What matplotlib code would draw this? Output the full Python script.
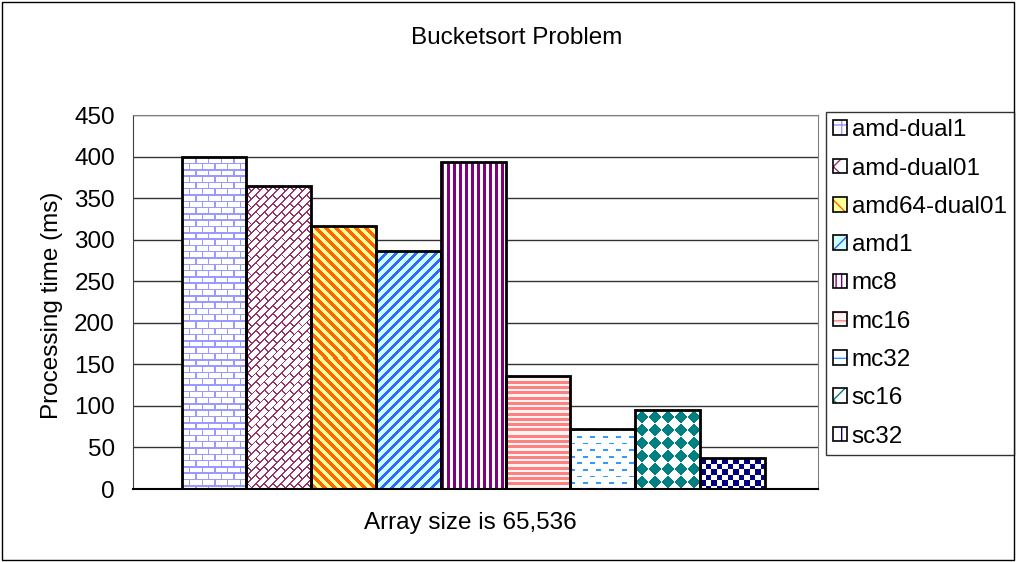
import numpy as np
import matplotlib.pyplot as plt
from matplotlib.patches import Rectangle, Patch
from matplotlib.colors import to_rgb

plt.rcParams['font.family'] = ['Liberation Sans', 'DejaVu Sans']
FS = 17.5

machines = ['amd-dual1', 'amd-dual01', 'amd64-dual01', 'amd1', 'mc8',
            'mc16', 'mc32', 'sc16', 'sc32']
times_ms = [400, 364, 317, 286, 393, 136, 72, 95, 37]

face_colors = ['white', 'white', '#FFFF99', '#CCFFFF', 'white',
               '#FFF4F4', 'white', 'white', 'white']
ink_colors = ['#9999FF', '#993366', '#FF6600', '#3366FF', '#800080',
              '#FF8080', '#3399FF', '#008080', '#000080']
pattern_names = ['brick', 'diagbrick', 'wide_down', 'wide_up', 'vstripe',
                 'hstripe', 'dash', 'diamond', 'checker']

# small hatch stand-ins for the legend keys
legend_hatches = ['+', 'x', '\\\\', '//', '|||', '--', '-', 'x', '+']
legend_hatch_lw = [1.0, 1.0, 3.0, 2.0, 2.5, 2.5, 1.0, 3.5, 3.5]


def brick(u, v, row=6.3, length=12.7, t=1.5):
    r = np.floor(v / row)
    return ((v % row) < t) | (((u + (r % 2) * length / 2) % length) < t)


def pattern_mask(name, xx, yy):
    # xx, yy are pixel coordinates (y grows downward)
    if name == 'brick':
        return brick(xx, yy)
    if name == 'diagbrick':
        return brick((xx - yy) / np.sqrt(2), (xx + yy) / np.sqrt(2),
                     row=6.0, length=12.0, t=1.3)
    if name == 'wide_down':
        return ((xx - yy) % 10) < 5
    if name == 'wide_up':
        return ((xx + yy) % 10) < 4
    if name == 'vstripe':
        return (xx % 6) < 3
    if name == 'hstripe':
        return (yy % 5.3) < 3
    if name == 'dash':
        r = np.floor(yy / 6.6)
        return ((yy % 6.6) < 1.8) & (((xx + (r % 2) * 6.5) % 13) < 5)
    if name == 'diamond':
        dx = np.abs((xx % 13) - 6.5)
        dy = np.abs((yy % 13) - 6.5)
        return (dx + dy) < 6.2
    if name == 'checker':
        return ((np.floor(xx / 5.5) + np.floor(yy / 5.5)) % 2) == 0
    return np.zeros_like(xx, dtype=bool)


fig = plt.figure(figsize=(10.16, 5.62), dpi=100)
ax = fig.add_axes([133 / 1016, 1 - 489 / 562, 685 / 1016, 374 / 562])

x = np.arange(len(machines))
xlim = (-0.5 - 0.75, 8.5 + 0.82)
ylim = (0, 450)
ax.set_xlim(*xlim)
ax.set_ylim(*ylim)

bars = ax.bar(x, times_ms, width=1.0, color=face_colors, linewidth=0,
              zorder=2)

# fill every bar with its pixel pattern
for i, bar in enumerate(bars):
    x0 = bar.get_x()
    x1 = x0 + bar.get_width()
    h = bar.get_height()
    (px0, py0), (px1, py1) = ax.transData.transform([(x0, 0), (x1, h)])
    w_px = max(int(round(px1 - px0)), 1)
    h_px = max(int(round(py1 - py0)), 1)
    yy, xx = np.mgrid[0:h_px, 0:w_px].astype(float)
    mask = pattern_mask(pattern_names[i], xx, yy)
    img = np.empty((h_px, w_px, 3))
    img[:] = to_rgb(face_colors[i])
    img[mask] = to_rgb(ink_colors[i])
    im = ax.imshow(img, extent=(x0, x1, 0, h), origin='upper',
                   interpolation='nearest', aspect='auto', zorder=2.5)
    im.set_clip_path(bar)

ax.bar(x, times_ms, width=1.0, fill=False, edgecolor='black', linewidth=2,
       zorder=3)

ax.set_xlim(*xlim)
ax.set_ylim(*ylim)
ax.set_yticks(np.arange(0, 451, 50))
ax.yaxis.grid(True, color='#333333', linewidth=1)
ax.set_axisbelow(True)
ax.set_xticks([])
ax.tick_params(axis='y', labelsize=FS, length=0, pad=13)
for side in ['top', 'right']:
    ax.spines[side].set_color('#808080')
ax.spines['left'].set_color('#404040')
ax.spines['bottom'].set_color('black')
ax.spines['bottom'].set_linewidth(1.5)

fig.text(52 / 1016, 1 - 305 / 562, 'Processing time (ms)', rotation=90,
         ha='center', va='center', fontsize=FS)
fig.text(517 / 1016, 1 - 38 / 562, 'Bucketsort Problem', ha='center',
         va='center', fontsize=FS)
fig.text(470 / 1016, 1 - 523 / 562, 'Array size is 65,536', ha='center',
         va='center', fontsize=FS)

handles = []
for i in range(len(machines)):
    with plt.rc_context({'hatch.linewidth': legend_hatch_lw[i]}):
        inner = Patch(facecolor=face_colors[i], edgecolor=ink_colors[i],
                      hatch=legend_hatches[i], linewidth=0)
    outer = Patch(fill=False, edgecolor='black', linewidth=1.2)
    handles.append((inner, outer))

leg = fig.legend(handles, machines, loc='upper left',
                 bbox_to_anchor=(826 / 1016, 1 - 112 / 562), fontsize=FS,
                 frameon=True, fancybox=False, edgecolor='black',
                 handlelength=0.55, handleheight=0.55, handletextpad=0.2,
                 labelspacing=0.67, borderpad=0.3, borderaxespad=0)
leg.get_frame().set_linewidth(1)

# chart border
fig.patches.append(Rectangle((0.002, 0.003), 0.996, 0.994, fill=False,
                             edgecolor='black', linewidth=1,
                             transform=fig.transFigure, figure=fig))

fig.savefig('out.png', dpi=100)
